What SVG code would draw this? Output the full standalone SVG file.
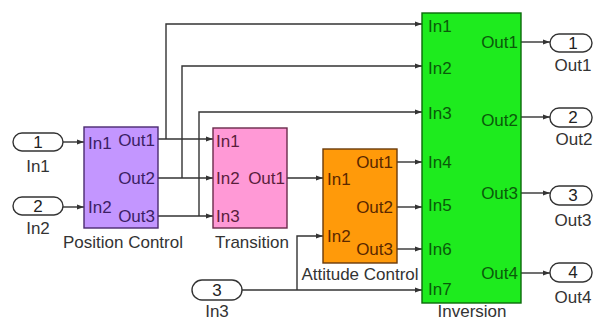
<svg xmlns="http://www.w3.org/2000/svg" width="594" height="320" viewBox="0 0 594 320">
<defs>
<marker id="ah" markerWidth="8" markerHeight="6" refX="7" refY="3" orient="auto" markerUnits="userSpaceOnUse">
<path d="M0,0.5 L7,3 L0,5.5 Z" fill="#333"/>
</marker>
</defs>
<style>
text{font-family:"Liberation Sans",Arial,sans-serif;font-size:17px}
.c{stroke:#333;stroke-width:1.4;fill:none}
.a{marker-end:url(#ah)}
.port{fill:#fff;stroke:#333;stroke-width:1.4}
.pt{fill:#222;text-anchor:middle}
.lbl{fill:#333;text-anchor:middle}
.pc{fill:#3c1e64}
.tr{fill:#5a1e3c}
.at{fill:#5a2800}
.inv{fill:#0a5a0a}
.e{text-anchor:end}
</style>
<rect width="594" height="320" fill="#fff"/>
<g id="connectors">
<path class="c a" d="M63,142 H84"/>
<path class="c a" d="M63,207 H84"/>
<path class="c a" d="M158,139 H213"/>
<path class="c a" d="M158,178 H213"/>
<path class="c a" d="M158,216 H213"/>
<path class="c a" d="M166,139 V24 H422"/>
<path class="c a" d="M182,178 V66 H422"/>
<path class="c a" d="M199,216 V112 H422"/>
<path class="c a" d="M287,178 H323"/>
<path class="c a" d="M397,162 H422"/>
<path class="c a" d="M397,207 H422"/>
<path class="c a" d="M397,249 H422"/>
<path class="c a" d="M242,290 H422"/>
<path class="c a" d="M297,290 V236 H323"/>
<path class="c a" d="M521,42 H550"/>
<path class="c a" d="M521,117 H550"/>
<path class="c a" d="M521,193 H550"/>
<path class="c a" d="M521,273 H550"/>
</g>
<g id="in1">
<rect class="port" x="13" y="133" width="50" height="18" rx="9"/>
<text class="pt" x="38" y="148">1</text>
<text class="lbl" x="38" y="172">In1</text>
</g>
<g id="in2">
<rect class="port" x="13" y="197" width="50" height="18" rx="9"/>
<text class="pt" x="38" y="212">2</text>
<text class="lbl" x="38" y="234">In2</text>
</g>
<g id="in3">
<rect class="port" x="192" y="280" width="50" height="20" rx="10"/>
<text class="pt" x="217" y="296">3</text>
<text class="lbl" x="217" y="317">In3</text>
</g>
<g id="position-control">
<rect x="84" y="127" width="74" height="101" fill="#c396ff" stroke="#4a2a70" stroke-width="1.4"/>
<text class="pc" x="88" y="149">In1</text>
<text class="pc" x="88" y="213">In2</text>
<text class="pc e" x="155" y="146">Out1</text>
<text class="pc e" x="155" y="184">Out2</text>
<text class="pc e" x="155" y="222">Out3</text>
<text class="lbl" x="123" y="248">Position Control</text>
</g>
<g id="transition">
<rect x="213" y="128" width="74" height="100" fill="#ff99d6" stroke="#6a2a4a" stroke-width="1.4"/>
<text class="tr" x="216" y="147">In1</text>
<text class="tr" x="216" y="184">In2</text>
<text class="tr" x="216" y="222">In3</text>
<text class="tr e" x="285" y="184">Out1</text>
<text class="lbl" x="252" y="248">Transition</text>
</g>
<g id="attitude-control">
<rect x="323" y="149" width="74" height="114" fill="#ff9a0a" stroke="#6a3a0a" stroke-width="1.4"/>
<text class="at" x="327" y="185">In1</text>
<text class="at" x="327" y="242">In2</text>
<text class="at e" x="393" y="168">Out1</text>
<text class="at e" x="393" y="213">Out2</text>
<text class="at e" x="393" y="255">Out3</text>
<text class="lbl" x="360" y="280">Attitude Control</text>
</g>
<g id="inversion">
<rect x="422" y="13" width="99" height="290" fill="#1eeb1e" stroke="#0a6a0a" stroke-width="1.4"/>
<text class="inv" x="428" y="32">In1</text>
<text class="inv" x="428" y="74">In2</text>
<text class="inv" x="428" y="119">In3</text>
<text class="inv" x="428" y="168">In4</text>
<text class="inv" x="428" y="211">In5</text>
<text class="inv" x="428" y="255">In6</text>
<text class="inv" x="428" y="295">In7</text>
<text class="inv e" x="518" y="48">Out1</text>
<text class="inv e" x="518" y="126">Out2</text>
<text class="inv e" x="518" y="199">Out3</text>
<text class="inv e" x="518" y="279">Out4</text>
<text class="lbl" x="472" y="317">Inversion</text>
</g>
<g id="out1">
<rect class="port" x="550" y="34" width="42" height="18" rx="9"/>
<text class="pt" x="573" y="49">1</text>
<text class="lbl" x="573" y="71">Out1</text>
</g>
<g id="out2">
<rect class="port" x="550" y="108" width="42" height="19" rx="9"/>
<text class="pt" x="573" y="123">2</text>
<text class="lbl" x="574" y="145">Out2</text>
</g>
<g id="out3">
<rect class="port" x="550" y="186" width="42" height="19" rx="9"/>
<text class="pt" x="573" y="201">3</text>
<text class="lbl" x="573" y="226">Out3</text>
</g>
<g id="out4">
<rect class="port" x="550" y="263" width="42" height="19" rx="9"/>
<text class="pt" x="573" y="278">4</text>
<text class="lbl" x="573" y="303">Out4</text>
</g>
</svg>
